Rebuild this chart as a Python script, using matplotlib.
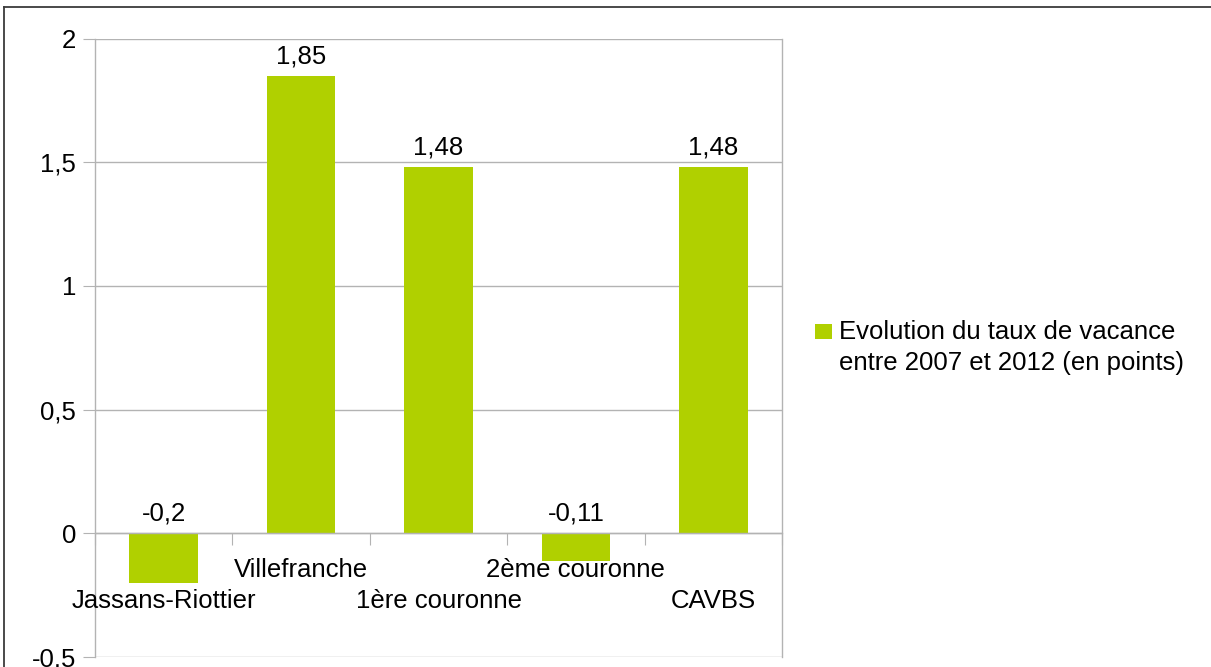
import matplotlib
matplotlib.use("Agg")
import matplotlib.pyplot as plt
from matplotlib.lines import Line2D
from matplotlib.patches import Rectangle
from matplotlib.ticker import FuncFormatter
import numpy as np

plt.rcParams['font.family'] = ['Liberation Sans', 'DejaVu Sans']

# Data
categories = ["Jassans-Riottier", "Villefranche", "1ère couronne", "2ème couronne", "CAVBS"]
values = [-0.2, 1.85, 1.48, -0.11, 1.48]
series_label = "Evolution du taux de vacance\nentre 2007 et 2012 (en points)"
y_ticks = [-0.5, 0, 0.5, 1, 1.5, 2]

BAR = "#b0d000"
GRID = "#b3b3b3"
FS = 18.5

W, H = 1211, 667
fig = plt.figure(figsize=(W / 100, H / 100), dpi=100)
fig.patch.set_facecolor("white")

ax = fig.add_axes([95 / W, 1 - 657 / H, (782 - 95) / W, (657 - 38.5) / H])

x = np.arange(len(categories))
ax.bar(x, values, width=0.5, color=BAR, zorder=2)

ax.set_xlim(-0.5, len(categories) - 0.5)
ax.set_ylim(min(y_ticks), max(y_ticks))

# horizontal grid behind the bars
for yv in y_ticks:
    ax.axhline(yv, color=GRID, linewidth=1, zorder=1)

# y axis
ax.set_yticks(y_ticks)
ax.yaxis.set_major_formatter(FuncFormatter(lambda v, p: f"{v:g}".replace(".", ",")))
ax.tick_params(axis="y", direction="out", length=8.6, width=0.8, color=GRID,
               pad=5, labelsize=FS, labelcolor="black")

# x axis sits on the zero line, labels staggered on two rows
ax.spines["bottom"].set_position(("data", 0))
ax.spines["top"].set_visible(False)
for s in ("left", "right", "bottom"):
    ax.spines[s].set_color(GRID)
    ax.spines[s].set_linewidth(1)
ax.set_xticks(x)
ax.set_xticklabels([("\n" + c) if i % 2 == 0 else c for i, c in enumerate(categories)])
for lbl in ax.get_xticklabels():
    lbl.set_linespacing(1.37)
ax.set_xticks(np.arange(-0.5, len(categories), 1), minor=True)
ax.tick_params(axis="x", which="major", length=0, pad=17.5, labelsize=FS, labelcolor="black")
ax.tick_params(axis="x", which="minor", direction="out", length=8.6, width=0.8, color=GRID)
ax.set_axisbelow(False)

# value labels
for xi, v in zip(x, values):
    ax.annotate(f"{v:g}".replace(".", ","), xy=(xi, max(v, 0)), xytext=(0, 14),
                textcoords="offset points", ha="center", va="center", fontsize=FS,
                color="black")

# legend
fig.add_artist(Rectangle((815 / W, 1 - 339 / H), 17 / W, 15 / H, transform=fig.transFigure,
                         facecolor=BAR, edgecolor="none"))
fig.text(839 / W, 1 - 347.5 / H, series_label, ha="left", va="center", fontsize=FS,
         linespacing=1.37, color="black")

# outer frame
fig.add_artist(Line2D([3.5 / W, 3.5 / W], [0, 1 - 6.5 / H], transform=fig.transFigure,
                      color="#3c3c3c", linewidth=1.3))
fig.add_artist(Line2D([3.5 / W, 1], [1 - 6.5 / H, 1 - 6.5 / H], transform=fig.transFigure,
                      color="#3c3c3c", linewidth=1.3))

fig.savefig("out.png", dpi=100, facecolor="white")
